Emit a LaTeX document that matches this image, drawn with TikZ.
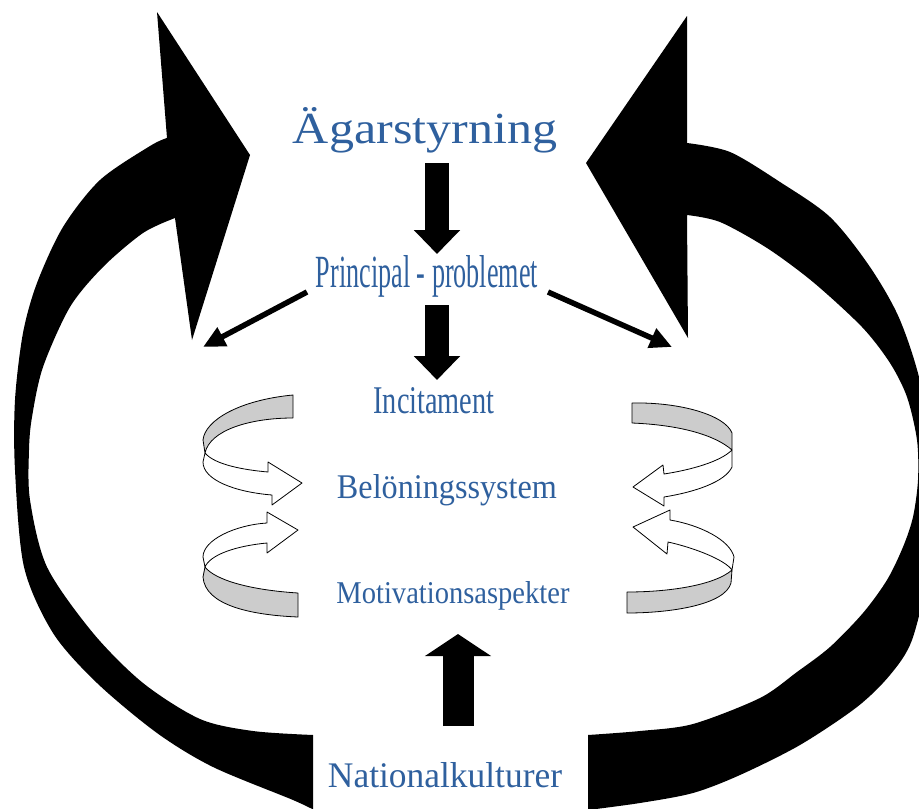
\documentclass[tikz,border=0pt]{standalone}
\usepackage{fontspec}
\setmainfont{Liberation Serif}
\usetikzlibrary{arrows.meta}
\definecolor{txtblue}{RGB}{47,96,158}
\definecolor{ribbon}{RGB}{204,204,204}
\newcommand\bluetxt[3]{\textcolor{txtblue}{\resizebox{#1}{#2}{#3}}}
\begin{document}
\begin{tikzpicture}[x=1pt,y=-1pt,
  lbl/.style={inner sep=0pt, outer sep=0pt, anchor=base},
  blockdown/.style={line width=24pt, -{Triangle[length=24pt,width=45pt]}},
  blockup/.style={line width=31pt, -{Triangle[length=22pt,width=65pt]}},
  thinarrow/.style={line width=5.5pt, -{Triangle[length=22pt,width=20pt]}},
  ribbonpart/.style={fill=ribbon, draw=black, line width=0.8pt, line join=round},
  whitepart/.style={fill=white, draw=black, line width=0.8pt, line join=round}]
\useasboundingbox (0,0) rectangle (919,809);
\begin{scope}
\clip (0,0) rectangle (919,809);
% left big curved arrow
\fill[black] (250,155) -- (157,12) -- (167,138)
  -- plot[smooth] coordinates {(167,138) (150,146) (100,180) (63,227) (37,283) (23,333) (15,400) (15,470) (24,567) (53,633) (97,683) (157,733) (213,767) (293,800) (318,812)}
  -- (313,812) -- (313,735)
  -- plot[smooth] coordinates {(313,735) (253,731) (200,719) (143,683) (93,633) (47,567) (30,500) (29,450) (32,417) (43,367) (70,307) (103,267) (143,233) (175,218)}
  -- (192,340) -- cycle;
% right big curved arrow
\fill[black] (586,163) -- (687,16) -- (687,143)
  -- plot[smooth] coordinates {(687,143) (730,152) (780,182) (830,217) (870,267) (900,320) (922,390) (932,480) (928,570) (912,640) (890,675) (857,707) (800,745) (740,775) (693,793) (640,803) (588,810)}
  -- (588,812) -- (588,735)
  -- plot[smooth] coordinates {(588,735) (640,731) (693,724) (760,698) (797,672) (830,647) (863,613) (887,580) (903,547) (913,517) (918,480) (917,440) (907,397) (890,363) (862,327) (813,282) (767,248) (720,222) (687,215)}
  -- (688,338) -- cycle;
\end{scope}

% texts
\node[lbl, text height=36pt, text depth=20pt] (ag) at (425,143) {\bluetxt{264pt}{36pt}{Ägarstyrning}};
\node[lbl, text height=33pt, text depth=18pt] (pp) at (427,287) {\bluetxt{222pt}{32pt}{Principal - problemet}};
\node[lbl, text height=33pt, text depth=10pt] (inc) at (434,413) {\bluetxt{121pt}{26pt}{Incitament}};
\node[lbl] (bel) at (447,498) {\bluetxt{220pt}{24pt}{Belöningssystem}};
\node[lbl, text height=22pt, text depth=31pt] (mot) at (453,603) {\bluetxt{233pt}{22pt}{Motivationsaspekter}};
\node[lbl, text height=61pt, text depth=8pt] (nat) at (445,787) {\bluetxt{234pt}{25pt}{Nationalkulturer}};

% block arrows
\draw[blockdown] ([xshift=12pt]ag.south) -- ([xshift=10pt]pp.north);
\draw[blockdown] ([xshift=10pt]pp.south) -- ([xshift=3pt]inc.north);
\draw[blockup] ([xshift=13pt]nat.north) -- ([xshift=5pt]mot.south);

% thin arrows
\coordinate (lend) at (203,347);
\coordinate (rend) at (672,347);
\draw[thinarrow] ([shift={(-9pt,-5pt)}]pp.base west) -- (lend);
\draw[thinarrow] ([shift={(10pt,-5pt)}]pp.base east) -- (rend);

% left-top curly arrow
\filldraw[ribbonpart] (293,395) -- (293,418) .. controls (250,418) and (210,430) .. (205,453) -- (203,440) .. controls (205,420) and (240,400) .. cycle;
\filldraw[whitepart] (205,453) .. controls (215,465) and (245,470) .. (268,472) -- (268,462) -- (302,483) -- (272,505) -- (272,495) .. controls (235,492) and (203,480) .. (203,462) -- cycle;
% left-bottom curly arrow
\filldraw[whitepart] (203,557) .. controls (203,540) and (235,525) .. (267,523) -- (267,512) -- (298,530) -- (267,553) -- (267,543) .. controls (235,546) and (210,555) .. (205,567) -- cycle;
\filldraw[ribbonpart] (205,567) .. controls (215,580) and (250,590) .. (298,593) -- (298,617) .. controls (250,615) and (205,605) .. (203,577) -- cycle;
% right-top curly arrow
\filldraw[ribbonpart] (632,403) .. controls (680,402) and (725,415) .. (732,433) -- (732,450) .. controls (715,435) and (680,425) .. (632,423) -- cycle;
\filldraw[whitepart] (732,450) .. controls (720,462) and (690,470) .. (664,474) -- (663,465) -- (633,487) -- (664,506) -- (664,497) .. controls (695,492) and (725,482) .. (732,467) -- cycle;
% right-bottom curly arrow
\filldraw[whitepart] (734,557) .. controls (730,540) and (700,525) .. (670,520) -- (670,510) -- (633,527) -- (667,554) -- (668,542) .. controls (695,548) and (725,560) .. (732,570) -- cycle;
\filldraw[ribbonpart] (732,570) .. controls (715,585) and (670,592) .. (627,592) -- (627,613) .. controls (670,613) and (725,605) .. (731,583) -- cycle;
\end{tikzpicture}
\end{document}
